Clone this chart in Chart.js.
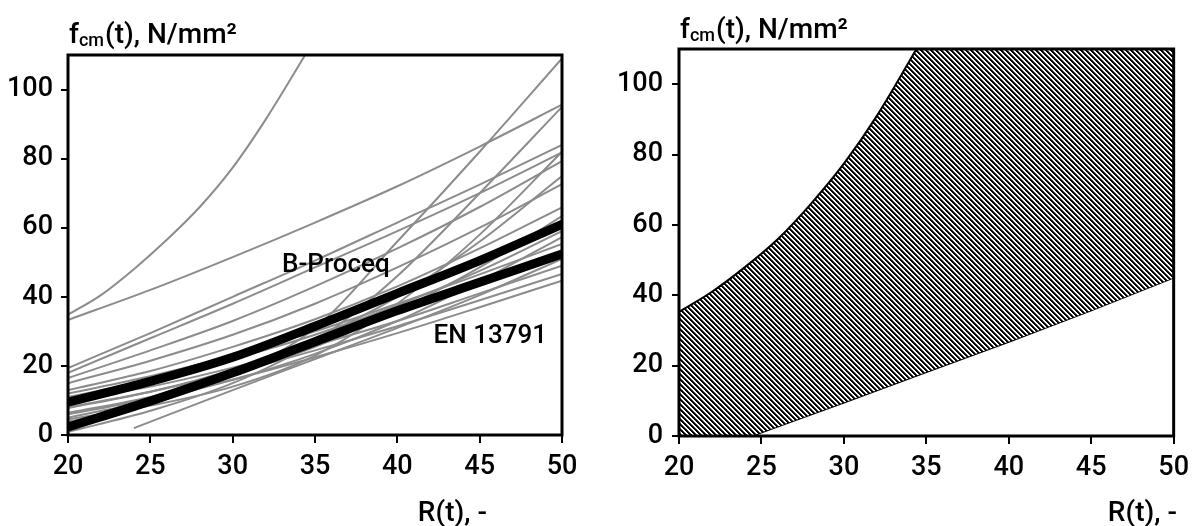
<!DOCTYPE html>
<html>
<head>
<meta charset="utf-8">
<script src="https://cdn.jsdelivr.net/npm/chart.js@4/dist/chart.umd.min.js"></script>
<style>
body{margin:0;background:#fff;}
#wrap{position:relative;width:1197px;height:526px;}
.box{position:absolute;top:0;}
</style>
</head>
<body>
<div id="wrap">
  <div class="box" style="left:0"><canvas id="c1" width="600" height="526"></canvas></div>
  <div class="box" style="left:600px"><canvas id="c2" width="597" height="526"></canvas></div>
</div>
<script>
// ---------------- data ----------------
var rValues = [20, 25, 30, 35, 40, 45, 50];
var yTicks = [0, 20, 40, 60, 80, 100];

// gray curves from the literature, fcm at each rValue
var grayCurves = [
  [33.3, 42, 51.5, 61.5, 72, 83.5, 95.6],
  [19.4, 29.5, 40, 50.5, 61.5, 72.5, 84],
  [18, 28, 38, 48.5, 59, 70, 81.8],
  [16.5, 24.5, 33, 43, 54, 66, 79.3],
  [15, 21.5, 29, 38, 48.5, 60, 72.6],
  [13, 18.5, 25.5, 33.5, 43, 54, 65.9],
  [12, 17, 23, 30, 38, 46.5, 55.3],
  [11, 16, 22, 29, 37.5, 47.5, 59],
  [10, 14, 19.5, 26, 33, 41, 49],
  [8, 12.5, 18, 24.5, 31.5, 39, 46.6],
  [7.8, 12.5, 19, 28, 40, 56, 75],
  [6.4, 11, 17.5, 25.5, 36, 48.5, 63.4],
  [6, 10.5, 16, 22.5, 29.5, 37, 44.7],
  [5, 10, 16, 23.5, 33, 44.5, 57.3],
  [3.8, 9, 17.5, 31, 56, 82, 109],
  [0.9, 7, 15, 27, 46, 70, 95],
  [4.5, 8.5, 14, 23, 38, 58, 82]
];
// steep curve that leaves the plot through the top
var steepR = [20, 22, 24, 26, 28, 30, 32, 34.4, 36];
var steepF = [34.8, 40.5, 48, 56.5, 66, 77.4, 91.3, 110, 123];
// curve that starts at R = 24
var lateR = [24, 30, 35, 40, 45, 50];
var lateF = [2, 13, 22, 31, 40.5, 51];

var bProceq = [9.5, 15.5, 22.5, 31.5, 41, 50.5, 61];
var en13791 = [2.3, 9.8, 18, 27, 36, 44.2, 52.4];

// right chart: envelope of all curves (upper one runs out above the top)
var upperR = [20, 22, 24, 26, 28, 30, 32, 34.4, 36, 50];
var upperF = [35.3, 41, 48, 56, 66, 77.4, 91, 110, 123, 123];
var lowerR = [20, 24.4, 30, 35, 40, 45, 50];
var lowerF = [0, 0, 9.5, 18.2, 26.8, 35.7, 45];

var FONT = 'Roboto, "Liberation Sans", sans-serif';

function pts(xs, ys) {
  return xs.map(function (x, i) { return {x: x, y: ys[i]}; });
}

// hatch pattern "\\\\" black/white
function makeHatch() {
  var p = 5;
  var c = document.createElement('canvas');
  c.width = p; c.height = p;
  var g = c.getContext('2d');
  var img = g.createImageData(p, p);
  for (var y = 0; y < p; y++) {
    for (var x = 0; x < p; x++) {
      var d = ((x - y) % p + p) % p;
      var v = d < 2 ? 0 : (d == 2 ? 70 : 255);
      var k = (y * p + x) * 4;
      img.data[k] = v; img.data[k + 1] = v; img.data[k + 2] = v; img.data[k + 3] = 255;
    }
  }
  g.putImageData(img, 0, 0);
  return g.createPattern(c, 'repeat');
}

// frame, titles and labels
function decor(o) {
  return {
    id: 'decor',
    afterDraw: function (chart) {
      var ctx = chart.ctx, a = chart.chartArea;
      ctx.save();
      ctx.strokeStyle = '#000';
      ctx.lineWidth = 3;
      ctx.strokeRect(a.left, a.top, a.right - a.left, a.bottom - a.top);
      ctx.fillStyle = '#000';
      ctx.textBaseline = 'alphabetic';
      ctx.textAlign = 'left';
      // y title with subscript
      var x = o.titleX;
      ctx.font = '500 28px ' + FONT;
      ctx.fillText('f', x, o.titleY);
      x += ctx.measureText('f').width;
      ctx.font = '500 18px ' + FONT;
      ctx.fillText('cm', x, o.titleY + 3);
      x += ctx.measureText('cm').width + 1;
      ctx.font = '500 28px ' + FONT;
      ctx.fillText('(t), N/mm\u00b2', x, o.titleY);
      // x title
      ctx.textAlign = 'right';
      ctx.fillText('R(t), -', o.xTitleX, 521);
      // curve labels
      ctx.textAlign = 'left';
      ctx.textBaseline = 'middle';
      ctx.font = '500 26px ' + FONT;
      (o.labels || []).forEach(function (l) {
        ctx.fillText(l.text, chart.scales.x.getPixelForValue(l.r), chart.scales.y.getPixelForValue(l.f));
      });
      ctx.restore();
    }
  };
}

function scales(yWidth, tickPad) {
  return {
    x: {
      type: 'linear', min: 20, max: 50,
      ticks: {stepSize: 5, color: '#000', font: {family: FONT, size: 27, weight: '500'}, padding: 8},
      grid: {drawOnChartArea: false, drawTicks: true, tickLength: 8, color: '#000', lineWidth: 2},
      border: {display: false},
      afterFit: function (s) { s.height = 50; }
    },
    y: {
      type: 'linear', min: 0, max: 110,
      afterBuildTicks: function (s) { s.ticks = yTicks.map(function (v) { return {value: v}; }); },
      ticks: {color: '#000', font: {family: FONT, size: 27, weight: '500'}, padding: tickPad},
      grid: {drawOnChartArea: false, drawTicks: true, tickLength: 7, color: '#000', lineWidth: 2},
      border: {display: false},
      afterFit: function (s) { s.width = yWidth; }
    }
  };
}

var commonPlugins = {legend: {display: false}, tooltip: {enabled: false}};

// ---------------- left chart ----------------
// black reference curves first so they sit on top of the gray ones
var leftSets = [];
leftSets.push({data: pts(rValues, bProceq), borderColor: '#000', borderWidth: 9, pointRadius: 0,
  borderCapStyle: 'round', cubicInterpolationMode: 'monotone', fill: false});
leftSets.push({data: pts(rValues, en13791), borderColor: '#000', borderWidth: 9, pointRadius: 0,
  borderCapStyle: 'round', cubicInterpolationMode: 'monotone', fill: false});
grayCurves.forEach(function (c) {
  leftSets.push({data: pts(rValues, c), borderColor: '#8c8c8c', borderWidth: 2, pointRadius: 0,
    cubicInterpolationMode: 'monotone', fill: false});
});
leftSets.push({data: pts(steepR, steepF), borderColor: '#8c8c8c', borderWidth: 2, pointRadius: 0,
  cubicInterpolationMode: 'monotone', fill: false});
leftSets.push({data: pts(lateR, lateF), borderColor: '#8c8c8c', borderWidth: 2, pointRadius: 0,
  cubicInterpolationMode: 'monotone', fill: false});

new Chart(document.getElementById('c1'), {
  type: 'line',
  data: {datasets: leftSets},
  options: {
    responsive: false, animation: false,
    layout: {padding: {left: 0, top: 55, right: 38, bottom: 41}},
    scales: scales(68, 8),
    plugins: commonPlugins
  },
  plugins: [decor({titleX: 69, titleY: 43, xTitleX: 487,
    labels: [{text: 'B-Proceq', r: 33.0, f: 49}, {text: 'EN 13791', r: 42.2, f: 28.4}]})]
});

// ---------------- right chart ----------------
new Chart(document.getElementById('c2'), {
  type: 'line',
  data: {datasets: [
    {data: pts(upperR, upperF), borderColor: '#000', borderWidth: 2, pointRadius: 0,
      cubicInterpolationMode: 'monotone', backgroundColor: makeHatch(), fill: '+1'},
    {data: pts(lowerR, lowerF), borderColor: '#000', borderWidth: 2, pointRadius: 0, fill: false}
  ]},
  options: {
    responsive: false, animation: false,
    layout: {padding: {left: 0, top: 49, right: 19, bottom: 40}},
    scales: scales(79, 9),
    plugins: commonPlugins
  },
  plugins: [decor({titleX: 80, titleY: 38, xTitleX: 577})]
});
</script>
</body>
</html>
